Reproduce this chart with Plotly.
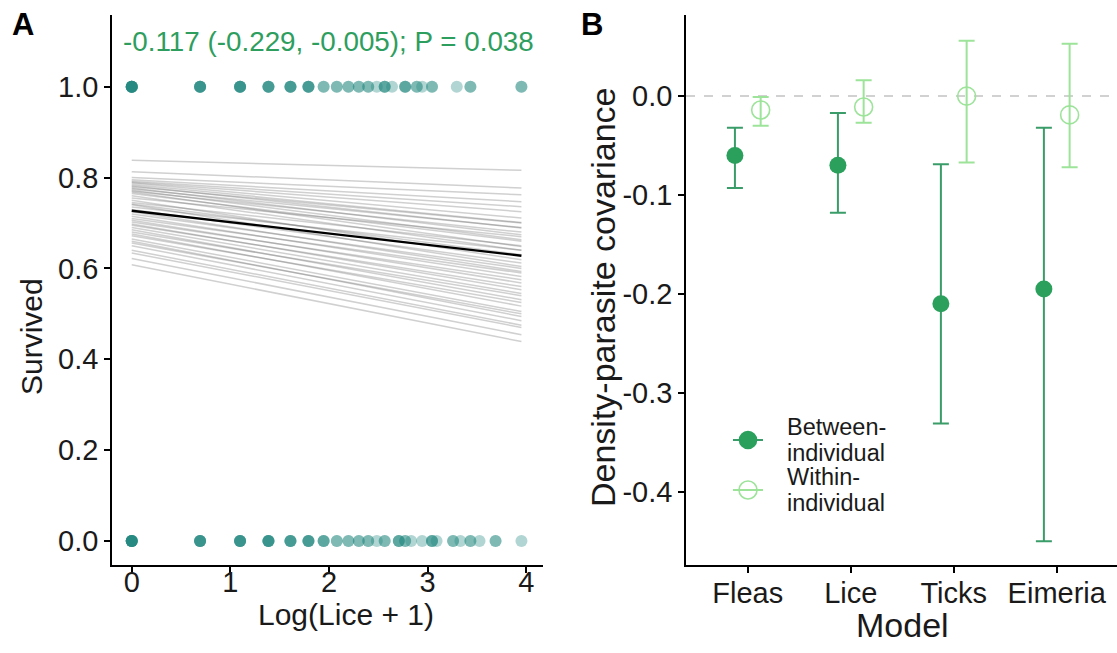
import numpy as np
import plotly.graph_objects as go

# ---------------- Panel A data ----------------
# lice counts of individuals that survived (1) and did not survive (0)
lice_survived = ([0] * 8 + [1] * 5 + [2] * 5 + [3] * 4 + [4] * 4 + [5] * 4 +
                 [6] * 2 + [7] * 2 + [8] * 2 + [9] * 2 + [10] * 2 + [11] * 1 +
                 [12] * 3 + [13] * 1 + [15] * 3 + [17] * 2 + [18] * 1 + [20] * 2 +
                 [26] * 1 + [30] * 2 + [51] * 2)
lice_died = ([0] * 8 + [1] * 5 + [2] * 5 + [3] * 5 + [4] * 4 + [5] * 4 +
             [6] * 3 + [7] * 2 + [8] * 2 + [9] * 2 + [10] * 2 + [11] * 1 +
             [12] * 2 + [14] * 3 + [15] * 2 + [16] * 1 + [18] * 1 + [20] * 3 +
             [21] * 1 + [25] * 2 + [27] * 1 + [30] * 2 + [33] * 1 + [39] * 2 + [51] * 1)

# posterior draws of predicted survival: value at Log(Lice+1)=0 and at max
draw_start = [0.838, 0.813, 0.800, 0.795, 0.792, 0.790, 0.788, 0.785, 0.782, 0.780,
              0.777, 0.775, 0.772, 0.770, 0.768, 0.765, 0.760, 0.755, 0.750, 0.745,
              0.742, 0.740, 0.735, 0.730, 0.725, 0.720, 0.715, 0.710, 0.706, 0.702,
              0.698, 0.695, 0.690, 0.685, 0.680, 0.676, 0.672, 0.665, 0.660, 0.656,
              0.650, 0.640, 0.634, 0.622, 0.608]
draw_end = [0.816, 0.777, 0.762, 0.747, 0.736, 0.725, 0.711, 0.701, 0.689, 0.700,
            0.674, 0.690, 0.663, 0.680, 0.648, 0.660, 0.640, 0.670, 0.619, 0.650,
            0.630, 0.604, 0.640, 0.612, 0.593, 0.600, 0.582, 0.590, 0.568, 0.575,
            0.553, 0.560, 0.545, 0.531, 0.540, 0.517, 0.525, 0.505, 0.494, 0.500,
            0.485, 0.475, 0.470, 0.454, 0.439]
mean_start = 0.727
mean_end = 0.628
effect_text = "-0.117 (-0.229, -0.005); P = 0.038"

# ---------------- Panel B data ----------------
models = ["Fleas", "Lice", "Ticks", "Eimeria"]
between_est = [-0.060, -0.070, -0.210, -0.195]
between_lo = [-0.093, -0.118, -0.331, -0.450]
between_hi = [-0.032, -0.017, -0.069, -0.032]
within_est = [-0.014, -0.011, 0.000, -0.019]
within_lo = [-0.030, -0.027, -0.067, -0.072]
within_hi = [-0.001, 0.016, 0.056, 0.053]
legend_labels = [["Between-", "individual"], ["Within-", "individual"]]

FONT = "Liberation Sans, Arial, Helvetica, sans-serif"
TXT = "#1a1a1a"
TEAL = "#1f877d"
GREEN_DARK = "#2aa05c"
GREEN_BAR = "#3a9c69"
GREEN_LIGHT = "#9de39a"

W, H = 1117, 653


def px_x(p):
    return p / W


def px_y(p):
    return 1 - p / H


fig = go.Figure()

# ---- Panel A ----
x_surv = np.log1p(np.array(lice_survived, dtype=float))
x_died = np.log1p(np.array(lice_died, dtype=float))
x_max = float(max(x_surv.max(), x_died.max()))

for s, e in zip(draw_start, draw_end):
    fig.add_trace(go.Scatter(x=[0, x_max], y=[s, e], mode="lines",
                             line=dict(color="rgba(100,100,100,0.3)", width=1.5),
                             showlegend=False, hoverinfo="skip", xaxis="x", yaxis="y"))
fig.add_trace(go.Scatter(x=[0, x_max], y=[mean_start, mean_end], mode="lines",
                         line=dict(color="black", width=2.4),
                         showlegend=False, xaxis="x", yaxis="y"))
fig.add_trace(go.Scatter(x=x_surv, y=np.ones_like(x_surv), mode="markers",
                         marker=dict(color=TEAL, size=12, opacity=0.35),
                         showlegend=False, xaxis="x", yaxis="y"))
fig.add_trace(go.Scatter(x=x_died, y=np.zeros_like(x_died), mode="markers",
                         marker=dict(color=TEAL, size=12, opacity=0.35),
                         showlegend=False, xaxis="x", yaxis="y"))

# ---- Panel B ----
xi = np.arange(len(models))
dodge = 0.125
b_est = np.array(between_est)
w_est = np.array(within_est)
fig.add_trace(go.Scatter(
    x=xi - dodge, y=b_est, mode="markers", name="Between-individual",
    marker=dict(color=GREEN_DARK, size=17, symbol="circle"),
    error_y=dict(type="data", symmetric=False,
                 array=np.array(between_hi) - b_est,
                 arrayminus=b_est - np.array(between_lo),
                 color=GREEN_BAR, thickness=2, width=8),
    showlegend=False, xaxis="x2", yaxis="y2"))
fig.add_trace(go.Scatter(
    x=xi + dodge, y=w_est, mode="markers", name="Within-individual",
    marker=dict(color=GREEN_LIGHT, size=18, symbol="circle-open",
                line=dict(width=1.6, color=GREEN_LIGHT)),
    error_y=dict(type="data", symmetric=False,
                 array=np.array(within_hi) - w_est,
                 arrayminus=w_est - np.array(within_lo),
                 color=GREEN_LIGHT, thickness=2, width=8),
    showlegend=False, xaxis="x2", yaxis="y2"))

# ---- Legend keys (drawn in a helper pixel-space axis so line spacing matches) ----
LX0, LX1, LY0, LY1 = 700, 900, 400, 530
key_rows = [440, 490]
key_styles = [
    dict(mc=GREEN_DARK, lc=GREEN_BAR, sym="circle", size=17),
    dict(mc=GREEN_LIGHT, lc=GREEN_LIGHT, sym="circle-open", size=18),
]
for yk, st in zip(key_rows, key_styles):
    fig.add_trace(go.Scatter(x=[733, 748, 763], y=[yk, yk, yk], mode="lines",
                             line=dict(color=st["lc"], width=2),
                             showlegend=False, hoverinfo="skip", xaxis="x3", yaxis="y3"))
    fig.add_trace(go.Scatter(x=[748], y=[yk], mode="markers",
                             marker=dict(color=st["mc"], size=st["size"], symbol=st["sym"],
                                         line=dict(width=1.6, color=st["mc"])),
                             showlegend=False, hoverinfo="skip", xaxis="x3", yaxis="y3"))

fig.add_shape(type="line", xref="x2 domain", yref="y2", x0=0, x1=1, y0=0, y1=0,
              line=dict(color="#c2c2c2", width=1.5, dash="dash"), layer="below")

axis_common = dict(showline=True, linecolor="black", linewidth=1.6, ticks="outside",
                   ticklen=6, tickwidth=1.6, tickcolor="black", showgrid=False,
                   zeroline=False, tickfont=dict(size=29, color=TXT, family=FONT),
                   automargin=False)

dom_y = [px_y(565), px_y(15)]
annotations = [
    dict(text=effect_text, x=2.0, y=1.1, xref="x", yref="y", showarrow=False,
         font=dict(size=27.8, color="#2e9e5e", family=FONT), xanchor="center", yanchor="middle"),
    # axis titles
    dict(text="Log(Lice + 1)", x=px_x(346), y=px_y(614), xref="paper", yref="paper",
         showarrow=False, font=dict(size=30, color=TXT, family=FONT),
         xanchor="center", yanchor="middle"),
    dict(text="Survived", x=px_x(31), y=px_y(337), xref="paper", yref="paper",
         showarrow=False, textangle=-90, font=dict(size=30, color=TXT, family=FONT),
         xanchor="center", yanchor="middle"),
    dict(text="Model", x=px_x(902), y=px_y(625), xref="paper", yref="paper",
         showarrow=False, font=dict(size=34, color=TXT, family=FONT),
         xanchor="center", yanchor="middle"),
    dict(text="Density-parasite covariance", x=px_x(603), y=px_y(297), xref="paper",
         yref="paper", showarrow=False, textangle=-90,
         font=dict(size=34, color=TXT, family=FONT), xanchor="center", yanchor="middle"),
    # panel letters
    dict(text="<b>A</b>", x=px_x(10), y=px_y(5), xref="paper", yref="paper", showarrow=False,
         font=dict(size=31, color="black", family=FONT), xanchor="left", yanchor="top"),
    dict(text="<b>B</b>", x=px_x(579), y=px_y(5), xref="paper", yref="paper", showarrow=False,
         font=dict(size=31, color="black", family=FONT), xanchor="left", yanchor="top"),
]
# legend labels, one line each
label_y = [[427, 453], [477, 503]]
for lines, ys in zip(legend_labels, label_y):
    for txt, yy in zip(lines, ys):
        annotations.append(dict(text=txt, x=785, y=yy, xref="x3", yref="y3", showarrow=False,
                                font=dict(size=23.5, color=TXT, family=FONT), height=24,
                                xanchor="left", yanchor="middle"))

fig.update_layout(
    width=W, height=H, autosize=False,
    margin=dict(l=0, r=0, t=0, b=0),
    plot_bgcolor="rgba(0,0,0,0)", paper_bgcolor="white",
    font=dict(family=FONT, color=TXT),
    showlegend=False,
    xaxis=dict(domain=[px_x(112), px_x(543)], range=[-0.2, 4.17], tickvals=[0, 1, 2, 3, 4],
               anchor="y", ticklabelstandoff=-16, **axis_common),
    yaxis=dict(domain=dom_y, range=[-0.053, 1.158], tickvals=[0, 0.2, 0.4, 0.6, 0.8, 1.0],
               ticktext=["0.0", "0.2", "0.4", "0.6", "0.8", "1.0"],
               anchor="x", **axis_common),
    xaxis2=dict(domain=[px_x(686), 1.0], range=[-0.6, 3.585], tickvals=list(xi),
                ticktext=models, anchor="y2", ticklabelstandoff=-5, **axis_common),
    yaxis2=dict(domain=dom_y, range=[-0.474, 0.082],
                tickvals=[-0.4, -0.3, -0.2, -0.1, 0.0],
                ticktext=["-0.4", "-0.3", "-0.2", "-0.1", "0.0"],
                anchor="x2", **axis_common),
    xaxis3=dict(domain=[px_x(LX0), px_x(LX1)], range=[LX0, LX1], visible=False,
                anchor="y3", fixedrange=True),
    yaxis3=dict(domain=[px_y(LY1), px_y(LY0)], range=[LY1, LY0], visible=False,
                anchor="x3", fixedrange=True),
    annotations=annotations,
)

fig.write_html("out.html", config={"displayModeBar": False},
               post_script="document.body.style.margin='0';document.body.style.overflow='hidden';")
